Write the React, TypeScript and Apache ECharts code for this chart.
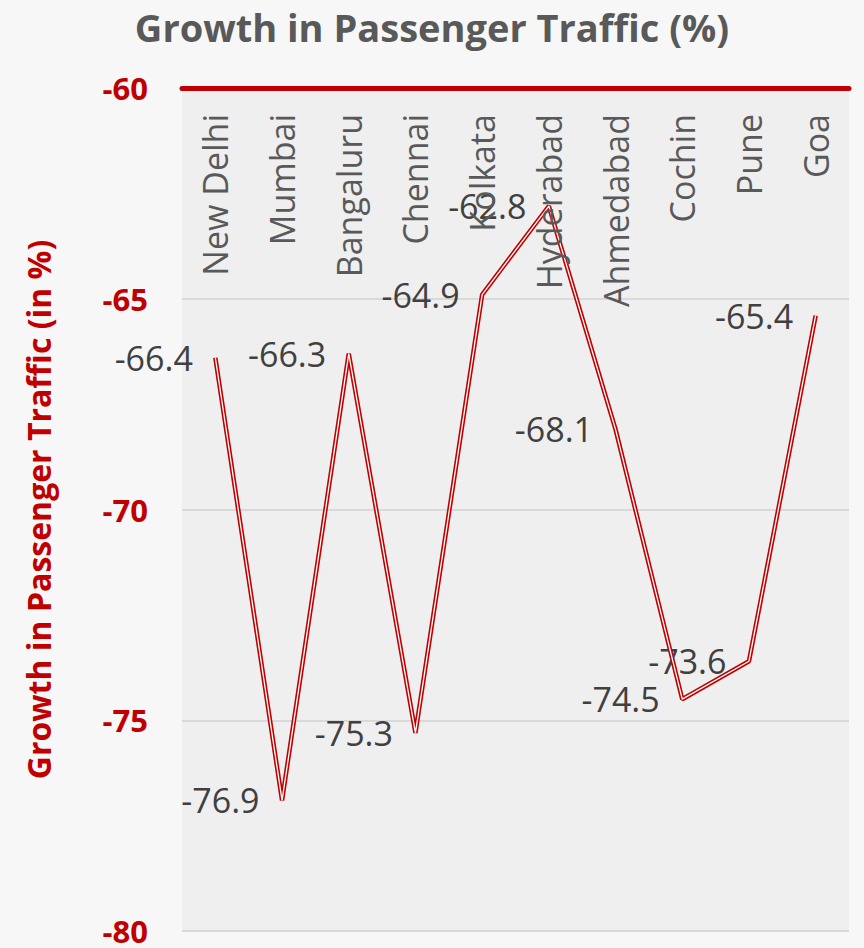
import React, { useEffect, useRef } from "react";
import * as echarts from "echarts";

const cities = ["New Delhi", "Mumbai", "Bangaluru", "Chennai", "Kolkata", "Hyderabad", "Ahmedabad", "Cochin", "Pune", "Goa"];
const growth = [-66.4, -76.9, -66.3, -75.3, -64.9, -62.8, -68.1, -74.5, -73.6, -65.4];
const yMin = -80;
const yMax = -60;
const yStep = 5;

const FONT = "'Open Sans', 'Noto Sans', sans-serif";

export default function App() {
  const ref = useRef<HTMLDivElement>(null);
  useEffect(() => {
    if (!ref.current) return;
    const chart = echarts.init(ref.current, null, { renderer: "svg" });
    chart.setOption({
      animation: false,
      backgroundColor: "#f7f7f7",
      title: {
        text: "Growth in Passenger Traffic (%)",
        left: "center",
        top: 3,
        textStyle: { fontFamily: FONT, fontWeight: "bold", fontSize: 38, color: "#595959" },
      },
      grid: {
        left: 182,
        right: 15,
        top: 88,
        bottom: 17,
        show: true,
        backgroundColor: "#efefef",
        borderWidth: 0,
      },
      xAxis: {
        type: "category",
        data: cities,
        position: "top",
        boundaryGap: true,
        axisLine: { show: true, lineStyle: { color: "#c00000", width: 5 } },
        axisTick: { show: false },
        axisLabel: {
          inside: true,
          rotate: -90,
          margin: 26,
          fontFamily: FONT,
          fontSize: 34,
          color: "#595959",
        },
        z: 5,
      },
      yAxis: {
        type: "value",
        min: yMin,
        max: yMax,
        interval: yStep,
        axisLine: { show: false },
        axisTick: { show: false },
        splitLine: { lineStyle: { color: "#d9d9d9", width: 2 } },
        axisLabel: {
          margin: 34,
          fontFamily: FONT,
          fontWeight: "bold",
          fontSize: 31,
          lineHeight: 26,
          color: "#c00000",
        },
        name: "Growth in Passenger Traffic (in %)",
        nameLocation: "middle",
        nameRotate: 90,
        nameGap: 128,
        nameTextStyle: { fontFamily: FONT, fontWeight: "bold", fontSize: 32, color: "#c00000" },
      },
      series: [
        {
          type: "line",
          data: growth,
          symbol: "circle",
          symbolSize: 1,
          itemStyle: { color: "rgba(0,0,0,0)" },
          lineStyle: { color: "#c00000", width: 4.5 },
          z: 3,
          label: {
            show: true,
            position: "left",
            distance: 22,
            fontFamily: FONT,
            fontSize: 34,
            color: "#404040",
            formatter: (p: any) => p.value.toFixed(1),
          },
        },
        {
          type: "line",
          data: growth,
          symbol: "none",
          lineStyle: { color: "#ffffff", width: 1.3 },
          z: 4,
          silent: true,
        },
      ],
    });
    return () => chart.dispose();
  }, []);
  return <div ref={ref} style={{ position: "fixed", left: 0, top: 0, width: 864, height: 948 }} />;
}
